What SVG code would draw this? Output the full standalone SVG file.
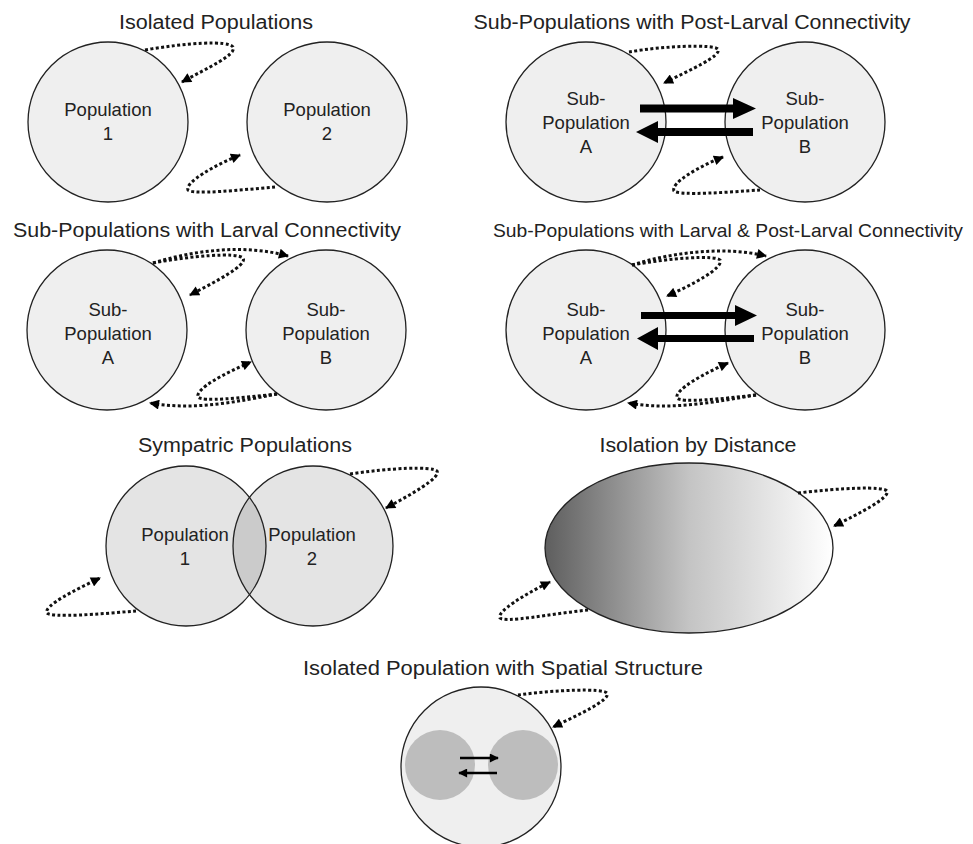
<svg xmlns="http://www.w3.org/2000/svg" width="973" height="844" viewBox="0 0 973 844">
<defs>
<style>
.t{font-family:"Liberation Sans",Arial,sans-serif;font-size:20px;fill:#222;text-anchor:middle}
.l{font-family:"Liberation Sans",Arial,sans-serif;font-size:18.5px;fill:#222;text-anchor:middle}
.c{fill:#efefef;stroke:#222;stroke-width:1.3}
.o{fill:none;stroke:#222;stroke-width:1.3}
.d{fill:none;stroke:#111;stroke-width:3;stroke-dasharray:3 2.4;marker-end:url(#ah)}
.big{fill:#000}
.sm{fill:none;stroke:#000;stroke-width:2.5;marker-end:url(#sh)}
</style>
<marker id="ah" viewBox="0 0 10 10" refX="9" refY="5" markerWidth="11" markerHeight="10" markerUnits="userSpaceOnUse" orient="auto">
<path d="M0,0 L10,5 L0,10 z" fill="#000"/>
</marker>
<marker id="sh" viewBox="0 0 10 10" refX="9" refY="5" markerWidth="10" markerHeight="9" markerUnits="userSpaceOnUse" orient="auto">
<path d="M0,0 L10,5 L0,10 z" fill="#000"/>
</marker>
<linearGradient id="g" x1="545" y1="0" x2="833" y2="0" gradientUnits="userSpaceOnUse">
<stop offset="0" stop-color="#5e5e5e"/>
<stop offset="0.5" stop-color="#c4c4c4"/>
<stop offset="1" stop-color="#ffffff"/>
</linearGradient>
</defs>
<rect width="973" height="844" fill="#fff"/>

<!-- Panel 1 -->
<text class="t" x="216" y="29" textLength="194" lengthAdjust="spacingAndGlyphs">Isolated Populations</text>
<g id="p1-pop1"><circle class="c" cx="108" cy="122" r="80"/><text class="l" x="108" y="116">Population</text><text class="l" x="108" y="140">1</text></g>
<g id="p1-pop2"><circle class="c" cx="327" cy="122" r="80"/><text class="l" x="327" y="116">Population</text><text class="l" x="327" y="140">2</text></g>

<!-- Panel 2 -->
<text class="t" x="692" y="29" textLength="437" lengthAdjust="spacingAndGlyphs">Sub-Populations with Post-Larval Connectivity</text>
<g id="p2-a"><circle class="c" cx="586" cy="122" r="80"/><text class="l" x="586" y="105">Sub-</text><text class="l" x="586" y="129">Population</text><text class="l" x="586" y="153">A</text></g>
<g id="p2-b"><circle class="c" cx="805" cy="122" r="80"/><text class="l" x="805" y="105">Sub-</text><text class="l" x="805" y="129">Population</text><text class="l" x="805" y="153">B</text></g>

<!-- Panel 3 -->
<text class="t" x="207" y="237" textLength="388" lengthAdjust="spacingAndGlyphs">Sub-Populations with Larval Connectivity</text>
<g id="p3-a"><circle class="c" cx="107" cy="330" r="80"/><text class="l" x="108" y="316">Sub-</text><text class="l" x="108" y="340">Population</text><text class="l" x="108" y="364">A</text></g>
<g id="p3-b"><circle class="c" cx="326" cy="330" r="80"/><text class="l" x="326" y="316">Sub-</text><text class="l" x="326" y="340">Population</text><text class="l" x="326" y="364">B</text></g>

<!-- Panel 4 -->
<text class="t" x="728" y="237" style="font-size:18.5px" textLength="470" lengthAdjust="spacingAndGlyphs">Sub-Populations with Larval &amp; Post-Larval Connectivity</text>
<g id="p4-a"><circle class="c" cx="586" cy="330" r="80"/><text class="l" x="586" y="316">Sub-</text><text class="l" x="586" y="340">Population</text><text class="l" x="586" y="364">A</text></g>
<g id="p4-b"><circle class="c" cx="805" cy="330" r="80"/><text class="l" x="805" y="316">Sub-</text><text class="l" x="805" y="340">Population</text><text class="l" x="805" y="364">B</text></g>

<!-- Panel 5 -->
<text class="t" x="245" y="452" textLength="214" lengthAdjust="spacingAndGlyphs">Sympatric Populations</text>
<g id="p5-pops">
<circle cx="186" cy="546" r="80" fill="#e4e4e4"/>
<circle cx="313" cy="546" r="80" fill="#e4e4e4"/>
<path d="M249.5,497.3 A80,80 0 0,1 249.5,594.7 A80,80 0 0,1 249.5,497.3 z" fill="#cbcbcb"/>
<circle class="o" cx="186" cy="546" r="80"/>
<circle class="o" cx="313" cy="546" r="80"/>
</g>
<g id="p5-pop1"><text class="l" x="185" y="541">Population</text><text class="l" x="185" y="565">1</text></g>
<g id="p5-pop2"><text class="l" x="312" y="541">Population</text><text class="l" x="312" y="565">2</text></g>

<!-- Panel 6 -->
<text class="t" x="698" y="452" textLength="197" lengthAdjust="spacingAndGlyphs">Isolation by Distance</text>
<g id="p6-ellipse"><ellipse cx="689" cy="548" rx="144" ry="85" fill="url(#g)" stroke="#222" stroke-width="1.3"/></g>

<!-- Panel 7 -->
<text class="t" x="503" y="675" textLength="400" lengthAdjust="spacingAndGlyphs">Isolated Population with Spatial Structure</text>
<g id="p7-pop">
<circle class="c" cx="481" cy="767" r="80"/>
<circle cx="440" cy="765" r="35" fill="#bdbdbd"/>
<circle cx="523" cy="765" r="35" fill="#bdbdbd"/>
</g>

<g id="connectors">
<path class="d" d="M145,50 C185,43 228,40 233,47 C237,55 207,68 182,82"/>
<path class="d" d="M275,187 C240,190 192,195 188,190 C185,182 215,165 240,155"/>
<path class="d" d="M629,52 C662,46 713,44 718,49 C722,56 690,70 664,83"/>
<path class="d" d="M760,190 C730,192 680,196 674,191 C670,183 700,166 723,157"/>
<polygon class="big" points="640,104.5 733,104.5 733,98 756,108.5 733,119 733,112.5 640,112.5"/>
<polygon class="big" points="753,128 658,128 658,121 636,132 658,143 658,136 753,136"/>
<path class="d" d="M153,263 C190,256 237,252 243,258 C248,265 215,282 190,295"/>
<path class="d" d="M153,263 C195,250 245,244 288,256"/>
<path class="d" d="M277,394 C240,398 202,402 198,397 C195,389 225,373 251,362"/>
<path class="d" d="M277,394 C240,401 195,411 150,403"/>
<path class="d" d="M632,265 C670,258 715,255 720,260 C724,268 692,285 667,296"/>
<path class="d" d="M632,265 C673,252 725,246 766,256"/>
<path class="d" d="M756,395 C720,399 681,403 677,398 C674,390 705,373 728,363"/>
<path class="d" d="M756,395 C720,401 672,411 628,403"/>
<polygon class="big" points="641,312 735,312 735,305 757,315.5 735,326 735,319 641,319"/>
<polygon class="big" points="754,335 658,335 658,327 637,338.5 658,350 658,342 754,342"/>
<path class="d" d="M350,474 C390,468 432,466 437,471 C441,478 410,495 386,508"/>
<path class="d" d="M136,611 C100,614 52,618 47,613 C43,606 75,590 100,578"/>
<path class="d" d="M798,493 C840,488 883,486 887,491 C890,498 860,513 834,526"/>
<path class="d" d="M588,610 C550,614 505,623 500,618 C496,612 525,594 550,582"/>
<path class="d" d="M518,695 C555,690 602,688 607,693 C611,700 578,715 553,727"/>
<path class="sm" d="M460,758 L498,758"/>
<path class="sm" d="M497,773 L459,773"/>
</g>
</svg>
